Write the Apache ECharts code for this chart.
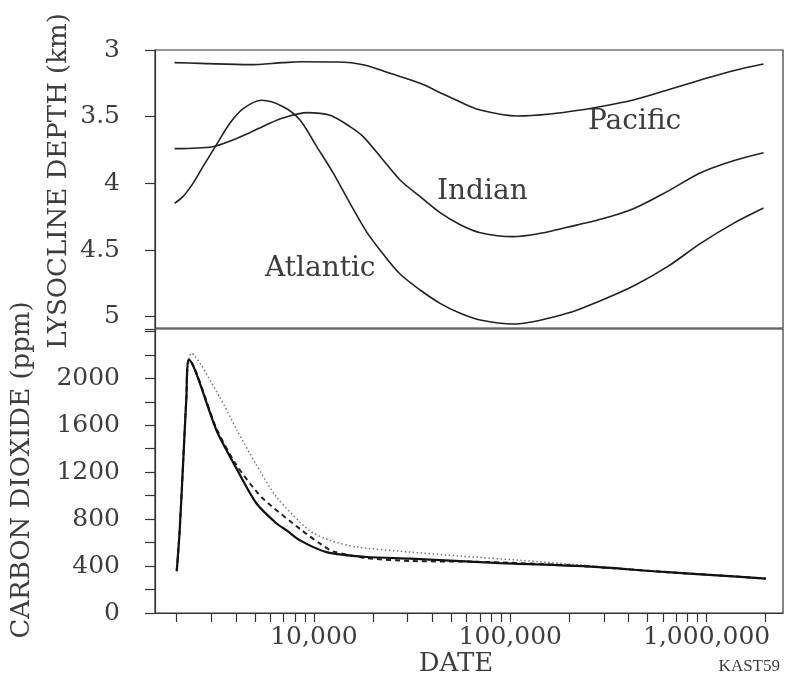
<!DOCTYPE html>
<html>
<head>
<meta charset="utf-8">
<script src="https://cdn.jsdelivr.net/npm/echarts@6/dist/echarts.min.js"></script>
<style>
html,body{margin:0;padding:0;background:#fff;}
#chart{width:789px;height:682px;}
</style>
</head>
<body>
<div id="chart"></div>
<script>
// ---- Data ----
const pacificYears = [1950, 2620, 4710, 6950, 8490, 13100, 17800, 24400, 34750, 43900, 55600, 70300, 108600, 160000, 227600, 324000, 424000, 632000, 932000, 1370000, 1950000];
const pacificDepth = [3.095, 3.10, 3.11, 3.095, 3.088, 3.09, 3.11, 3.175, 3.25, 3.32, 3.39, 3.45, 3.495, 3.48, 3.45, 3.41, 3.375, 3.30, 3.225, 3.155, 3.105];

const indianYears = [1950, 3050, 3870, 4710, 5740, 6950, 9210, 12070, 15260, 17800, 22500, 27450, 34750, 43900, 55600, 70300, 103500, 142200, 195000, 288000, 424000, 632000, 932000, 1370000, 1950000];
const indianDepth = [3.74, 3.725, 3.675, 3.62, 3.56, 3.51, 3.47, 3.49, 3.575, 3.65, 3.825, 3.975, 4.10, 4.22, 4.31, 4.37, 4.40, 4.375, 4.33, 4.27, 4.19, 4.06, 3.92, 3.83, 3.77];

const atlanticYears = [1950, 2150, 2420, 2720, 3190, 3730, 4360, 5410, 6970, 8490, 10330, 12500, 15260, 18650, 22500, 27450, 34750, 43900, 55600, 70300, 103500, 195000, 288000, 424000, 632000, 932000, 1370000, 1950000];
const atlanticDepth = [4.15, 4.10, 4.00, 3.875, 3.71, 3.55, 3.44, 3.377, 3.425, 3.525, 3.725, 3.92, 4.15, 4.37, 4.53, 4.68, 4.80, 4.90, 4.975, 5.025, 5.055, 4.975, 4.88, 4.77, 4.625, 4.45, 4.30, 4.185];

const co2SolidYears = [2000, 2070, 2155, 2240, 2310, 3190, 4035, 5100, 6450, 7260, 8490, 11600, 18570, 30900, 88900, 246000, 582000, 1370000, 2000000];
const co2Solid      = [357, 700, 1274, 1838, 2157, 1555, 1230, 933, 763, 704, 619, 519, 477, 463, 425, 397, 352, 312, 293];

const co2DashedYears = [2000, 2070, 2155, 2240, 2310, 3190, 3990, 5410, 8650, 10700, 12500, 18570, 30900, 60300, 100000, 246000, 582000, 1370000, 2000000];
const co2Dashed      = [357, 700, 1274, 1838, 2160, 1570, 1271, 987, 706, 593, 525, 468, 443, 438, 428, 397, 352, 312, 293];

const co2DottedYears = [2000, 2070, 2155, 2240, 2377, 3315, 4060, 5060, 6450, 9460, 12070, 16510, 30900, 55600, 112500, 288000, 582000, 1370000, 2000000];
const co2Dotted      = [357, 700, 1274, 1838, 2213, 1838, 1555, 1271, 987, 704, 619, 562, 519, 485, 449, 395, 352, 312, 293];

const xTickValues = [2000,3000,4000,5000,6000,7000,8000,9000,10000,20000,30000,40000,50000,60000,70000,80000,90000,100000,200000,300000,400000,500000,600000,700000,800000,900000,1000000,2000000];
const xLabelValues = [10000, 100000, 1000000];
const depthLabels = [3, 3.5, 4, 4.5, 5];
const co2Labels = [0, 400, 800, 1200, 1600, 2000];

// ---- Build ----
const pairs = (xs, ys) => xs.map((x, i) => [x, ys[i]]);
const FONT = '"DejaVu Serif", serif';
const TXT = '#3d3d3d';
const LINE = '#222';

const chart = echarts.init(document.getElementById('chart'));
const X_MIN = 1550, X_MAX = 2450000;

const option = {
  backgroundColor: '#fff',
  animation: false,
  grid: [
    {left: 155, top: 50, width: 628, height: 278, show: true, borderColor: '#333', borderWidth: 1.2, backgroundColor: 'transparent'},
    {left: 155, top: 329, width: 628, height: 284, show: true, borderColor: '#333', borderWidth: 1.2, backgroundColor: 'transparent'}
  ],
  xAxis: [
    {type: 'log', logBase: 10, gridIndex: 0, min: X_MIN, max: X_MAX,
     axisLine: {show: false}, axisTick: {show: false}, axisLabel: {show: false}, splitLine: {show: false}},
    {type: 'log', logBase: 10, gridIndex: 1, min: X_MIN, max: X_MAX,
     axisLine: {show: true, onZero: false, lineStyle: {color: '#333', width: 1.2}},
     axisTick: {show: true, inside: false, length: 9, customValues: xTickValues, lineStyle: {color: '#333', width: 1.2}},
     axisLabel: {show: true, customValues: xLabelValues, margin: 12, fontFamily: FONT, fontSize: 25, color: TXT,
                 formatter: v => Math.round(v).toLocaleString('en-US')},
     splitLine: {show: false}, minorSplitLine: {show: false}}
  ],
  yAxis: [
    {type: 'value', gridIndex: 0, inverse: true, min: 3, max: 5.085, interval: 0.5,
     axisLine: {show: true, lineStyle: {color: '#333', width: 1.2}},
     axisTick: {show: true, inside: false, length: 10, customValues: depthLabels, lineStyle: {color: '#333', width: 1.2}},
     axisLabel: {customValues: depthLabels, margin: 35, fontFamily: FONT, fontSize: 25, color: TXT,
                 formatter: v => String(v)},
     splitLine: {show: false}},
    {type: 'value', gridIndex: 1, min: 0, max: 2420, interval: 200,
     axisLine: {show: true, lineStyle: {color: '#333', width: 1.2}},
     axisTick: {show: true, inside: false, length: 10, lineStyle: {color: '#333', width: 1.2}},
     axisLabel: {customValues: co2Labels, margin: 35, fontFamily: FONT, fontSize: 25, color: TXT,
                 formatter: v => String(v)},
     splitLine: {show: false}}
  ],
  series: [
    {name: 'Pacific', type: 'line', xAxisIndex: 0, yAxisIndex: 0, data: pairs(pacificYears, pacificDepth),
     smooth: 0.3, showSymbol: false, lineStyle: {color: LINE, width: 1.6}},
    {name: 'Indian', type: 'line', xAxisIndex: 0, yAxisIndex: 0, data: pairs(indianYears, indianDepth),
     smooth: 0.3, showSymbol: false, lineStyle: {color: LINE, width: 1.6}},
    {name: 'Atlantic', type: 'line', xAxisIndex: 0, yAxisIndex: 0, data: pairs(atlanticYears, atlanticDepth),
     smooth: 0.3, showSymbol: false, lineStyle: {color: LINE, width: 1.6}},
    {name: 'CO2 dotted', type: 'line', xAxisIndex: 1, yAxisIndex: 1, data: pairs(co2DottedYears, co2Dotted),
     smooth: 0.25, showSymbol: false, lineStyle: {color: '#777', width: 1.5, type: [1.5, 2.5]}},
    {name: 'CO2 dashed', type: 'line', xAxisIndex: 1, yAxisIndex: 1, data: pairs(co2DashedYears, co2Dashed),
     smooth: 0.25, showSymbol: false, lineStyle: {color: '#222', width: 2, type: [5, 4]}},
    {name: 'CO2 solid', type: 'line', xAxisIndex: 1, yAxisIndex: 1, data: pairs(co2SolidYears, co2Solid),
     smooth: 0.25, showSymbol: false, lineStyle: {color: '#111', width: 2.2}}
  ],
  graphic: [
    {type: 'text', x: 59, y: 181, rotation: Math.PI / 2,
     style: {text: 'LYSOCLINE DEPTH (km)', font: '26px ' + FONT, fill: TXT, align: 'center', verticalAlign: 'middle'}},
    {type: 'text', x: 22, y: 470, rotation: Math.PI / 2,
     style: {text: 'CARBON DIOXIDE (ppm)', font: '26px ' + FONT, fill: TXT, align: 'center', verticalAlign: 'middle'}},
    {type: 'text', x: 588, y: 122,
     style: {text: 'Pacific', font: '28px ' + FONT, fill: TXT, align: 'left', verticalAlign: 'middle'}},
    {type: 'text', x: 437, y: 192,
     style: {text: 'Indian', font: '28px ' + FONT, fill: TXT, align: 'left', verticalAlign: 'middle'}},
    {type: 'text', x: 265, y: 269,
     style: {text: 'Atlantic', font: '28px ' + FONT, fill: TXT, align: 'left', verticalAlign: 'middle'}},
    {type: 'text', x: 456, y: 664,
     style: {text: 'DATE', font: '26px ' + FONT, fill: TXT, align: 'center', verticalAlign: 'middle'}},
    {type: 'text', x: 780, y: 667,
     style: {text: 'KAST59', font: '17px "Liberation Serif", serif', fill: TXT, align: 'right', verticalAlign: 'middle'}}
  ]
};
chart.setOption(option);
</script>
</body>
</html>
